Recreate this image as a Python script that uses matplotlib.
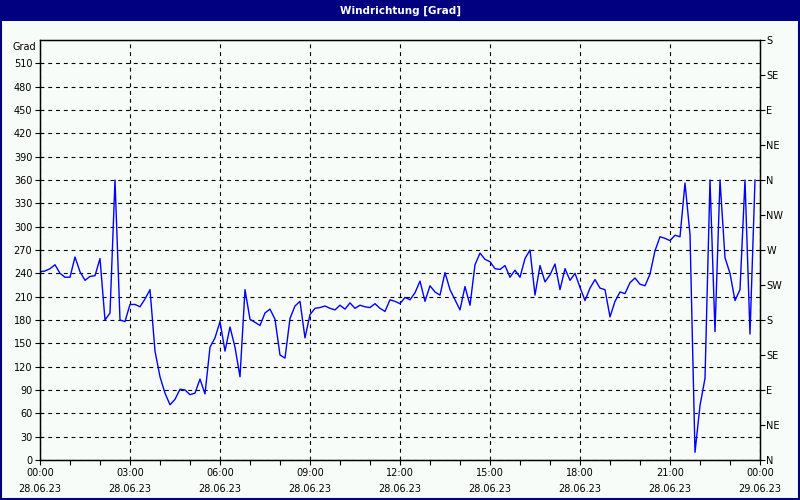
import matplotlib
matplotlib.use("Agg")
import matplotlib.pyplot as plt
import matplotlib.dates as mdates
from matplotlib.patches import Rectangle
import pandas as pd

# wind direction in degrees, one reading every 10 minutes from 28.06.23 00:00
direction = [
    242, 243, 246, 251, 240, 235, 235, 261, 242, 231, 236, 237,
    259, 180, 189, 360, 180, 178, 200, 200, 197, 207, 219, 140,
    107, 86, 71, 78, 91, 90, 84, 86, 104, 85, 145, 157,
    178, 140, 171, 145, 107, 219, 181, 177, 173, 189, 194, 181,
    135, 131, 182, 198, 204, 157, 187, 195, 196, 198, 195, 193,
    199, 194, 202, 195, 199, 197, 196, 201, 195, 191, 206, 204,
    201, 209, 206, 215, 230, 204, 224, 216, 212, 241, 219, 206,
    193, 223, 199, 251, 266, 258, 255, 246, 245, 250, 235, 244,
    235, 259, 270, 212, 250, 229, 238, 252, 219, 246, 231, 240,
    222, 205, 221, 232, 221, 219, 184, 204, 216, 214, 228, 234,
    226, 224, 239, 269, 287, 285, 282, 289, 287, 356, 290, 10,
    70, 105, 360, 165, 360, 260, 240, 205, 219, 360, 162, 360,
]
start = "2023-06-28 00:00"
end = "2023-06-29 00:00"
compass = ["N", "NE", "E", "SE", "S", "SW", "W", "NW", "N", "NE", "E", "SE", "S"]
title = "Windrichtung [Grad]"
unit = "Grad"

bg = "#F8FCF8"
navy = "#000080"

times = pd.date_range(start, periods=len(direction), freq="10min")

fig = plt.figure(figsize=(8, 5), dpi=100, facecolor=bg)
ax = fig.add_axes([0.05, 0.08, 0.90, 0.84])
ax.set_facecolor(bg)

ax.plot(times, direction, color="#0000FF", lw=1)

ax.set_xlim(pd.Timestamp(start), pd.Timestamp(end))
ax.set_ylim(0, 540)
ax.set_yticks(range(0, 540, 30))

major = pd.date_range(start, end, freq="3h")
ax.set_xticks(major)
ax.set_xticklabels([t.strftime("%H:%M\n%d.%m.%y") for t in major], linespacing=1.75)
ax.xaxis.set_minor_locator(mdates.HourLocator())

ax.grid(True, which="major", color="black", ls=(0, (3.5, 3.5)), lw=0.8)
ax.tick_params(axis="both", which="both", direction="out", length=3.5, width=0.8,
               labelsize=7, pad=2, colors="black")
for s in ax.spines.values():
    s.set_color("black")
    s.set_linewidth(1)

ax.text(-0.006, 538, unit, transform=ax.get_yaxis_transform(), ha="right", va="top", fontsize=7)

right = ax.twinx()
right.set_ylim(0, 540)
right.set_yticks(range(0, 541, 45))
right.set_yticklabels(compass)
right.tick_params(axis="y", direction="out", length=3.5, width=0.8, labelsize=7, pad=1)

# title bar and frame
fig.patches.append(Rectangle((0, 1 - 21 / 500), 1, 21 / 500, transform=fig.transFigure,
                             facecolor=navy, edgecolor="none", zorder=0))
fig.patches.append(Rectangle((0.001, 0.002), 0.998, 0.996, transform=fig.transFigure,
                             facecolor="none", edgecolor=navy, lw=1.5, zorder=0))
fig.text(0.5, 1 - 10.5 / 500, title, ha="center", va="center", color="white",
         fontsize=7.5, fontweight="bold")

fig.savefig("out.png", dpi=100, facecolor=bg)
